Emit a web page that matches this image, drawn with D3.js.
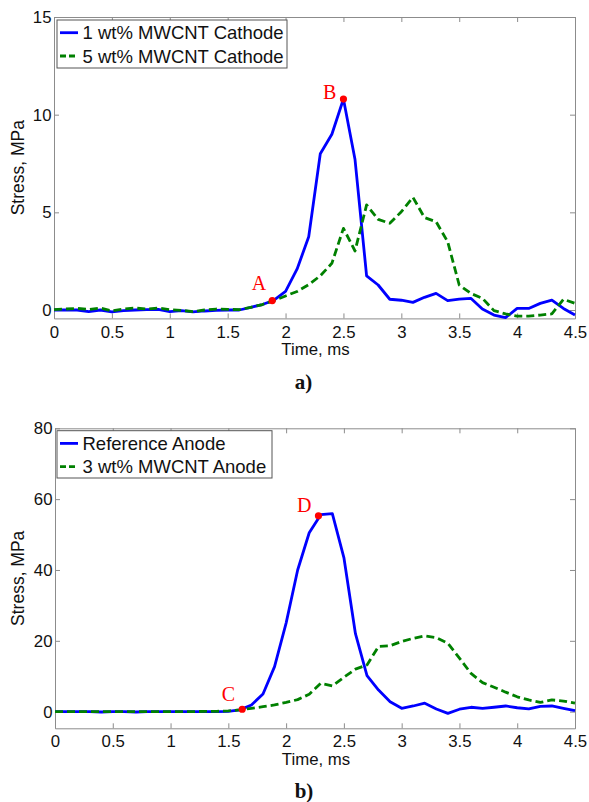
<!DOCTYPE html>
<html>
<head>
<meta charset="utf-8">
<script src="https://cdnjs.cloudflare.com/ajax/libs/d3/7.8.5/d3.min.js"></script>
<style>
    body { margin: 0; background: #fff; }
    svg { display: block; font-family: "Liberation Sans", Arial, sans-serif; }
</style>
</head>
<body>
<div id="chart"></div>
<script>
// Time samples (ms), shared by all four curves
const timeMs = [0, 0.1, 0.2, 0.3, 0.4, 0.5, 0.6, 0.7, 0.8, 0.9,
    1.0, 1.1, 1.2, 1.3, 1.4, 1.5, 1.6, 1.7, 1.8, 1.9,
    2.0, 2.1, 2.2, 2.3, 2.4, 2.5, 2.6, 2.7, 2.8, 2.9,
    3.0, 3.1, 3.2, 3.3, 3.4, 3.5, 3.6, 3.7, 3.8, 3.9,
    4.0, 4.1, 4.2, 4.3, 4.4, 4.5];

// a) cathodes, stress in MPa
const cathode1 = [0, 0, 0, -0.08, 0, -0.1, -0.03, 0, 0.02, 0.03,
    -0.08, -0.03, -0.1, -0.05, -0.02, 0, 0, 0.14, 0.28, 0.5,
    0.95, 2.1, 3.75, 8.0, 9.0, 10.8, 7.7, 1.75, 1.28, 0.55,
    0.5, 0.39, 0.65, 0.85, 0.48, 0.56, 0.6, 0.05, -0.26, -0.39,
    0.08, 0.08, 0.34, 0.51, 0.08, -0.26];
const cathode5 = [0.02, 0.05, 0.08, 0.03, 0.1, -0.05, 0.05, 0.1, 0.05, 0.1,
    0.02, -0.02, -0.08, 0, 0.05, 0.03, 0.02, 0.14, 0.28, 0.48,
    0.72, 0.95, 1.3, 1.75, 2.39, 4.18, 3.02, 5.38, 4.64, 4.44,
    5.03, 5.77, 4.73, 4.52, 3.5, 1.28, 0.85, 0.6, -0.03, -0.2,
    -0.31, -0.31, -0.26, -0.2, 0.55, 0.34];

// b) anodes, stress in MPa
const anodeRef = [0, 0, 0, 0, -0.1, 0, 0, -0.1, 0, 0,
    0, 0, 0, 0, 0, 0.1, 0.5, 1.9, 5.0, 12.7,
    25, 40, 50.5, 55.6, 55.9, 43.5, 22, 10.2, 6.1, 2.8,
    0.95, 1.6, 2.4, 0.76, -0.47, 0.68, 1.24, 0.95, 1.24, 1.6,
    1.1, 0.76, 1.5, 1.6, 0.95, 0.3];
const anode3 = [0, 0, 0, 0, 0, 0, 0, 0, 0, 0,
    0, 0, 0, 0.1, 0.1, 0.2, 0.5, 0.95, 1.4, 1.9,
    2.6, 3.4, 4.9, 8.0, 7.3, 9.7, 12.0, 13.2, 18.4, 18.6,
    19.8, 20.7, 21.4, 20.9, 19.3, 15.1, 10.8, 8.2, 6.9, 5.5,
    4.2, 3.3, 2.6, 3.3, 3.0, 2.4];

// Marked points
const cathodeMarkNames = ['A', 'B'];
const cathodeMarkTimes = [1.885, 2.5];
const cathodeMarkValues = [0.48, 10.8];
const anodeMarkNames = ['C', 'D'];
const anodeMarkTimes = [1.62, 2.28];
const anodeMarkValues = [0.68, 55.3];

// Ticks and legend text
const xTicks = [0, 0.5, 1, 1.5, 2, 2.5, 3, 3.5, 4, 4.5];
const cathodeYTicks = [0, 5, 10, 15];
const anodeYTicks = [0, 20, 40, 60, 80];
const cathodeNames = ['1 wt% MWCNT Cathode', '5 wt% MWCNT Cathode'];
const anodeNames = ['Reference Anode', '3 wt% MWCNT Anode'];

const chart = {
    svg: null,
    axisColor: '#8c8c8c',
    seriesStyles: [
        { color: '#0000ff', dash: null },
        { color: '#008000', dash: '8,4' }
    ],

    init: function() {
        chart.svg = d3.select('#chart')
            .append('svg')
            .attr('width', 589)
            .attr('height', 802);

        chart.drawPanel({
            left: 54, right: 575, top: 17, bottom: 318.4,
            yDomain: [-0.43, 15], yTicks: cathodeYTicks,
            series: [cathode1, cathode5], names: cathodeNames,
            legend: { x: 57, y: 20, w: 230, h: 48 },
            marks: { names: cathodeMarkNames, t: cathodeMarkTimes, v: cathodeMarkValues },
            markOffsets: { A: [-6, -11], B: [-7, 0] },
            tag: 'a)', tagY: 389
        });

        chart.drawPanel({
            left: 55, right: 575, top: 428.3, bottom: 728.3,
            yDomain: [-4.7, 80], yTicks: anodeYTicks,
            series: [anodeRef, anode3], names: anodeNames,
            legend: { x: 57, y: 430.7, w: 215, h: 47.3 },
            marks: { names: anodeMarkNames, t: anodeMarkTimes, v: anodeMarkValues },
            markOffsets: { C: [-7, -8], D: [-7, -4] },
            tag: 'b)', tagY: 798
        });
    },

    drawPanel: function(p) {
        const xScale = d3.scaleLinear().domain([0, 4.5]).range([p.left, p.right]);
        const yScale = d3.scaleLinear().domain(p.yDomain).range([p.bottom, p.top]);
        const g = chart.svg.append('g');

        // Axes (MATLAB style box with inward ticks)
        const fmt = d3.format('~g');
        g.append('g')
            .attr('transform', `translate(0, ${p.bottom})`)
            .call(d3.axisBottom(xScale).tickValues(xTicks).tickSizeInner(-5)
                .tickSizeOuter(0).tickPadding(7.2).tickFormat(fmt));
        g.append('g')
            .attr('transform', `translate(0, ${p.top})`)
            .call(d3.axisTop(xScale).tickValues(xTicks).tickSizeInner(-5)
                .tickSizeOuter(0).tickFormat(''));
        g.append('g')
            .attr('transform', `translate(${p.left}, 0)`)
            .call(d3.axisLeft(yScale).tickValues(p.yTicks).tickSizeInner(-5)
                .tickSizeOuter(0).tickPadding(2.5).tickFormat(fmt));
        g.append('g')
            .attr('transform', `translate(${p.right}, 0)`)
            .call(d3.axisRight(yScale).tickValues(p.yTicks).tickSizeInner(-5)
                .tickSizeOuter(0).tickFormat(''));

        g.selectAll('.domain, .tick line')
            .attr('stroke', chart.axisColor)
            .attr('stroke-width', 1);
        g.selectAll('.tick text')
            .attr('fill', '#111')
            .style('font-size', '16.8px')
            .style('font-family', '"Liberation Sans", Arial, sans-serif');

        // Axis titles
        g.append('text')
            .attr('x', (p.left + p.right) / 2 + 1)
            .attr('y', p.bottom + 37)
            .attr('text-anchor', 'middle')
            .attr('fill', '#111')
            .style('font-size', '16.8px')
            .text('Time, ms');
        g.append('text')
            .attr('transform', `translate(24, ${(p.top + p.bottom) / 2}) rotate(-90)`)
            .attr('text-anchor', 'middle')
            .attr('fill', '#111')
            .style('font-size', '17.5px')
            .text('Stress, MPa');

        // Curves
        const line = d3.line()
            .x((d, i) => xScale(timeMs[i]))
            .y(d => yScale(d));
        p.series.forEach((values, i) => {
            g.append('path')
                .datum(values)
                .attr('d', line)
                .attr('fill', 'none')
                .attr('stroke', chart.seriesStyles[i].color)
                .attr('stroke-width', 2.8)
                .attr('stroke-linejoin', 'round')
                .attr('stroke-dasharray', chart.seriesStyles[i].dash);
        });

        // Marked points with letters
        const marks = p.marks.names.map((n, i) => ({ name: n, t: p.marks.t[i], v: p.marks.v[i] }));
        g.selectAll('circle.mark')
            .data(marks)
            .enter()
            .append('circle')
                .attr('class', 'mark')
                .attr('cx', d => xScale(d.t))
                .attr('cy', d => yScale(d.v))
                .attr('r', 3.6)
                .attr('fill', '#ff0000');
        g.selectAll('text.mark')
            .data(marks)
            .enter()
            .append('text')
                .attr('class', 'mark')
                .attr('x', d => xScale(d.t) + p.markOffsets[d.name][0])
                .attr('y', d => yScale(d.v) + p.markOffsets[d.name][1])
                .attr('text-anchor', 'end')
                .attr('fill', '#ff0000')
                .style('font-family', '"Liberation Serif", "Times New Roman", serif')
                .style('font-size', '20px')
                .text(d => d.name);

        // Legend
        const lg = g.append('g').attr('transform', `translate(${p.legend.x}, ${p.legend.y})`);
        lg.append('rect')
            .attr('width', p.legend.w)
            .attr('height', p.legend.h)
            .attr('fill', '#fff')
            .attr('stroke', '#555')
            .attr('stroke-width', 1);
        p.names.forEach((name, i) => {
            const cy = 12.7 + i * 23.3;
            lg.append('line')
                .attr('x1', 3).attr('x2', 21)
                .attr('y1', cy).attr('y2', cy)
                .attr('stroke', chart.seriesStyles[i].color)
                .attr('stroke-width', 2.8)
                .attr('stroke-dasharray', chart.seriesStyles[i].dash ? '6,3' : null);
            lg.append('text')
                .attr('x', 25.5)
                .attr('y', cy + 6.5)
                .attr('fill', '#111')
                .style('font-size', '18.5px')
                .text(name);
        });

        // Panel tag
        g.append('text')
            .attr('x', (p.left + p.right) / 2 - 11)
            .attr('y', p.tagY)
            .attr('text-anchor', 'middle')
            .attr('fill', '#111')
            .style('font-family', '"Liberation Serif", "Times New Roman", serif')
            .style('font-weight', 'bold')
            .style('font-size', '21px')
            .text(p.tag);
    }
};

document.addEventListener('DOMContentLoaded', chart.init);
</script>
</body>
</html>
